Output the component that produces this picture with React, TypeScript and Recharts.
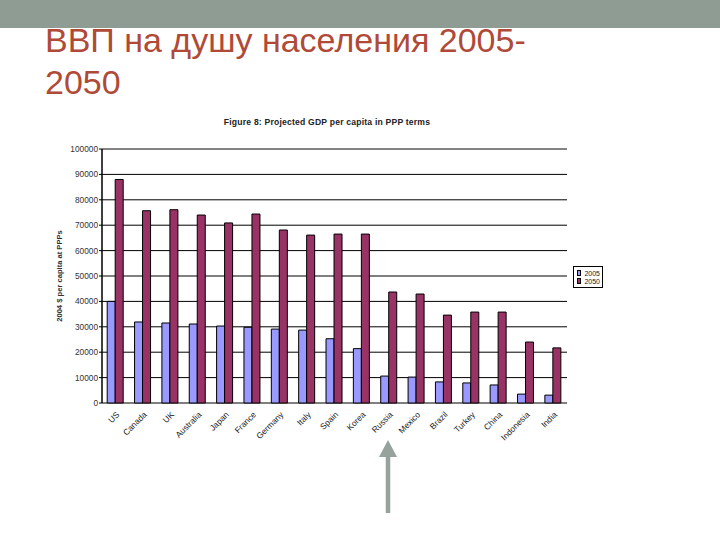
import React from 'react';
import {
  BarChart,
  Bar,
  XAxis,
  YAxis,
  CartesianGrid,
  Legend,
  ReferenceLine,
} from 'recharts';

const countries = ['US', 'Canada', 'UK', 'Australia', 'Japan', 'France', 'Germany', 'Italy', 'Spain', 'Korea', 'Russia', 'Mexico', 'Brazil', 'Turkey', 'China', 'Indonesia', 'India'];
const gdp2005 = [40000, 31900, 31500, 31100, 30300, 29800, 29100, 28700, 25300, 21400, 10600, 10200, 8300, 7900, 7100, 3500, 3100];
const gdp2050 = [88000, 75700, 76100, 74000, 70900, 74400, 68100, 66100, 66500, 66500, 43700, 42900, 34600, 35800, 35800, 24000, 21700];
const yTicks = [0, 10000, 20000, 30000, 40000, 50000, 60000, 70000, 80000, 90000, 100000];
const edgeTicks = [0, 1, 2, 3, 4, 5, 6, 7, 8, 9, 10, 11, 12, 13, 14, 15, 16, 17];

const data = countries.map((c, i) => ({ country: c, y2005: gdp2005[i], y2050: gdp2050[i] }));

const FONT = '"Liberation Sans", Arial, sans-serif';

const YLabel = (props: any) => {
  const { viewBox } = props;
  const x = viewBox.x + 19;
  const y = viewBox.y + viewBox.height / 2;
  return (
    <text
      x={x}
      y={y}
      transform={`rotate(-90 ${x} ${y})`}
      textAnchor="middle"
      dominantBaseline="central"
      fontSize={7.6}
      fontWeight="bold"
      fill="#333"
      fontFamily={FONT}
    >
      2004 $ per capita at PPPs
    </text>
  );
};

const LegendBox = (props: any) => {
  const { payload } = props;
  return (
    <div
      style={{
        border: '1px solid #000',
        background: '#fff',
        padding: '2px 2px 2px 3px',
        fontFamily: FONT,
        fontSize: 7,
        color: '#222',
      }}
    >
      {(payload || []).map((p: any) => (
        <div key={p.value} style={{ display: 'flex', alignItems: 'center', height: 8 }}>
          <span
            style={{
              display: 'inline-block',
              width: 4,
              height: 4,
              background: p.color,
              border: '1px solid #000',
              marginRight: 3,
            }}
          />
          {p.value}
        </div>
      ))}
    </div>
  );
};

export default function App() {
  return (
    <div style={{ position: 'absolute', left: 0, top: 0, width: 720, height: 540, background: '#fff', overflow: 'hidden' }}>
      <div style={{ position: 'absolute', left: 0, top: 0, width: 720, height: 28, background: '#8f9c94' }} />
      <div
        style={{
          position: 'absolute',
          left: 45,
          top: 19,
          fontFamily: FONT,
          fontSize: 34,
          lineHeight: '42px',
          color: '#b04a38',
          whiteSpace: 'nowrap',
        }}
      >
        ВВП на душу населения 2005-
        <br />
        2050
      </div>
      <div
        style={{
          position: 'absolute',
          left: 127,
          width: 400,
          top: 117,
          textAlign: 'center',
          fontFamily: FONT,
          fontSize: 8.6,
          fontWeight: 'bold',
          letterSpacing: 0.2,
          color: '#222',
        }}
      >
        Figure 8: Projected GDP per capita in PPP terms
      </div>
      <BarChart
        width={720}
        height={540}
        data={data}
        margin={{ top: 149, right: 153, bottom: 77, left: 40 }}
        barGap={0}
        barCategoryGap="19%"
        style={{ position: 'absolute', left: 0, top: 0 }}
      >
        <CartesianGrid vertical={false} stroke="#000" strokeWidth={1} />
        <XAxis
          xAxisId="edges"
          type="number"
          domain={[0, 17]}
          ticks={edgeTicks}
          allowDataOverflow
          tick={false}
          tickSize={4}
          height={0}
          axisLine={{ stroke: '#000', strokeWidth: 1.5 }}
          tickLine={{ stroke: '#000', strokeWidth: 1 }}
        />
        <XAxis
          dataKey="country"
          interval={0}
          angle={-45}
          textAnchor="end"
          tickLine={false}
          axisLine={false}
          tickSize={5}
          tickMargin={3}
          height={60}
          tick={{ fontSize: 8.4, fill: '#222', fontFamily: FONT }}
        />
        <YAxis
          domain={[0, 100000]}
          ticks={yTicks}
          width={62}
          tickSize={3}
          tickMargin={1}
          axisLine={{ stroke: '#000', strokeWidth: 1.5 }}
          tickLine={{ stroke: '#000' }}
          tick={{ fontSize: 8.3, fill: '#333', fontFamily: FONT }}
          label={<YLabel />}
        />
        <YAxis
          yAxisId="right"
          orientation="right"
          domain={[0, 100000]}
          width={0}
          tick={false}
          tickLine={false}
          axisLine={{ stroke: '#888' }}
        />
        <ReferenceLine y={100000} stroke="#888" />
        <Legend
          layout="horizontal"
          align="center"
          verticalAlign="middle"
          content={<LegendBox />}
          wrapperStyle={{ left: 573, top: 266, width: 30 }}
        />
        <Bar dataKey="y2005" name="2005" fill="#9999ff" stroke="#000" strokeWidth={1} isAnimationActive={false} />
        <Bar dataKey="y2050" name="2050" fill="#993366" stroke="#000" strokeWidth={1} isAnimationActive={false} />
      </BarChart>
      <svg width={720} height={540} style={{ position: 'absolute', left: 0, top: 0, pointerEvents: 'none' }}>
        <line x1={388} y1={513} x2={388} y2={454} stroke="#95a39c" strokeWidth={4.5} />
        <polygon points="388,440 379,457 397,457" fill="#95a39c" />
      </svg>
    </div>
  );
}
